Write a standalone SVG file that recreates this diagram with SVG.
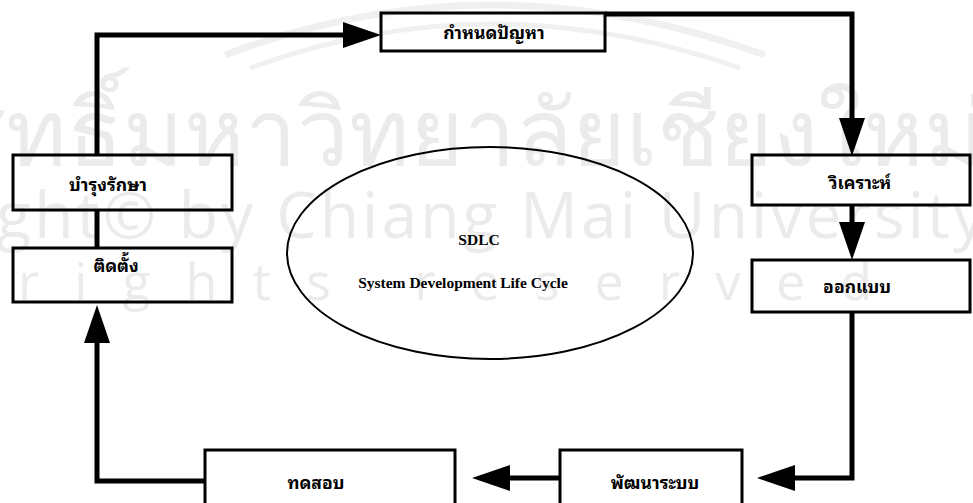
<svg xmlns="http://www.w3.org/2000/svg" width="973" height="503" viewBox="0 0 973 503">
<style>
.wm{fill:#ebebeb;font-family:"Open Sans","Noto Sans","DejaVu Sans",sans-serif}
.box{fill:none;stroke:#000;stroke-width:3}
.lbl{font-family:"Noto Sans Thai Looped","Noto Serif Thai","Loma","Garuda","Noto Sans Thai","Noto Sans",sans-serif;font-weight:bold;font-size:17.5px;fill:#000;text-anchor:middle}
.en{font-family:"Liberation Serif","Times New Roman",serif;font-weight:bold;font-size:15.5px;fill:#000;text-anchor:middle}
.con{fill:none;stroke:#000;stroke-width:5;stroke-linejoin:miter}
</style>
<defs>
<marker id="ah" viewBox="0 0 38 26" refX="0" refY="13" markerWidth="38" markerHeight="26" markerUnits="userSpaceOnUse" orient="auto">
<path d="M0,0 L38,13 L0,26 Z" fill="#000"/>
</marker>
</defs>
<rect width="973" height="503" fill="#fff"/>
<g id="watermark">
<path d="M225,55 Q490,-45 765,55" fill="none" stroke="#f0f0f0" stroke-width="7"/>
<path d="M250,68 Q490,-20 740,68" fill="none" stroke="#f0f0f0" stroke-width="5"/>
<text class="wm" x="985" y="165" font-size="92" text-anchor="end">ลิขสิทธิ์มหาวิทยาลัยเชียงใหม่</text>
<text class="wm" x="-215" y="238" font-size="64" textLength="1200" lengthAdjust="spacing">Copyright© by Chiang Mai University</text>
<text class="wm" x="18" y="300" font-size="52" letter-spacing="35">rights reserved</text>
</g>
<g id="connectors">
<polyline class="con" points="97,155 97,35 343,35" marker-end="url(#ah)"/>
<polyline class="con" points="605,14 852,14 852,118" marker-end="url(#ah)"/>
<polyline class="con" points="852,205 852,222" marker-end="url(#ah)"/>
<polyline class="con" points="852,312 852,478 795,478" marker-end="url(#ah)"/>
<polyline class="con" points="560,478 510,478" marker-end="url(#ah)"/>
<polyline class="con" points="205,481 97,481 97,343" marker-end="url(#ah)"/>
<line class="con" x1="97" y1="210" x2="97" y2="248"/>
</g>
<g id="n1"><rect class="box" x="381" y="13" width="224" height="38"/><text class="lbl" x="494" y="39">กำหนดปัญหา</text></g>
<g id="n2"><rect class="box" x="752" y="155" width="218" height="50"/><text class="lbl" x="860" y="189">วิเคราะห์</text></g>
<g id="n3"><rect class="box" x="752" y="260" width="218" height="52"/><text class="lbl" x="857" y="293">ออกแบบ</text></g>
<g id="n4"><rect class="box" x="560" y="450" width="182" height="65"/><text class="lbl" x="655" y="489">พัฒนาระบบ</text></g>
<g id="n5"><rect class="box" x="205" y="450" width="250" height="65"/><text class="lbl" x="316" y="489">ทดสอบ</text></g>
<g id="n6"><rect class="box" x="13" y="248" width="219" height="54"/><text class="lbl" x="116" y="272">ติดตั้ง</text></g>
<g id="n7"><rect class="box" x="13" y="155" width="219" height="55"/><text class="lbl" x="108" y="191">บำรุงรักษา</text></g>
<g id="sdlc">
<ellipse cx="490" cy="253" rx="203" ry="106" fill="none" stroke="#000" stroke-width="2"/>
<text class="en" x="479" y="245">SDLC</text>
<text class="en" x="463" y="288">System Development Life Cycle</text>
</g>
</svg>
